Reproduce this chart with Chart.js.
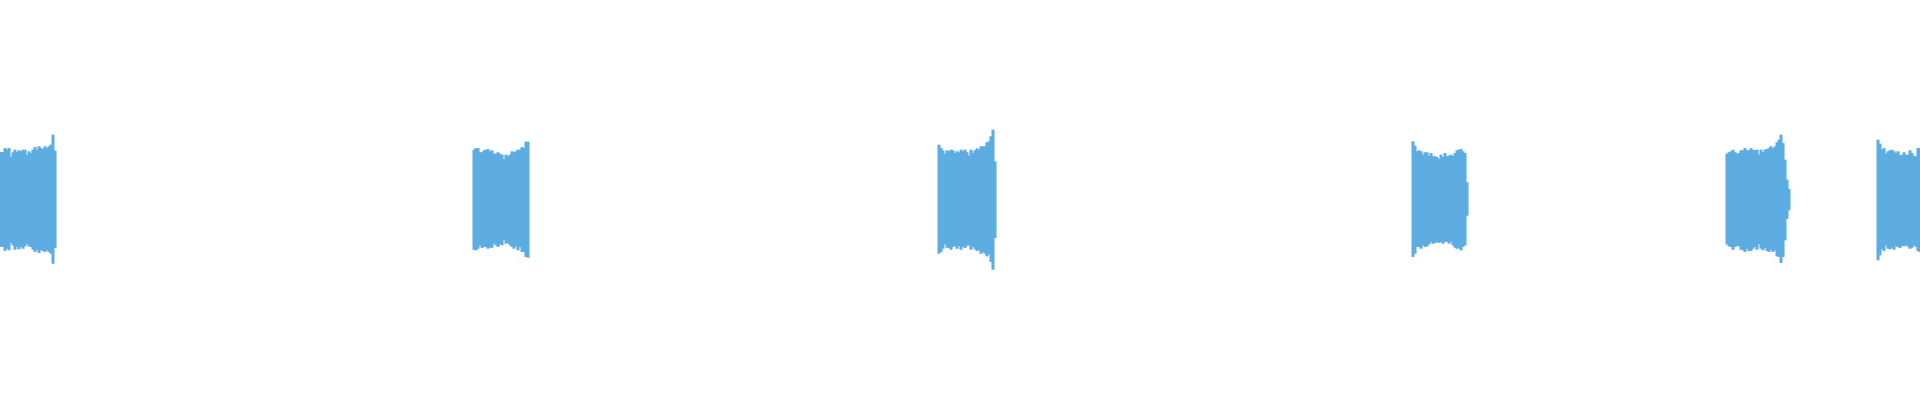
<!DOCTYPE html>
<html>
<head>
<meta charset="utf-8">
<script src="https://cdn.jsdelivr.net/npm/chart.js@4/dist/chart.umd.min.js"></script>
<style>
  html, body { margin: 0; padding: 0; background: #ffffff; }
  #wrap { width: 1920px; height: 400px; position: relative; }
</style>
</head>
<body>
<div id="wrap"><canvas id="wave"></canvas></div>
<script>
// Waveform peaks, one column every 20 ms; time axis is in seconds
const sampleStep = 0.02;
const burstStarts = [0.01, 4.74, 9.39, 14.13, 17.27, 18.78];

// upper / lower peak amplitude of each burst (normalised, 1 = full scale)
const burst1Top = [.233,.233,.253,.245,.253,.21,.232,.245,.232,.242,.237,.245,.245,.22,.237,.228,.245,.258,.245,.262,.253,.248,.262,.253,.262,.27,.32,.24];
const burst1Bottom = [.238,.238,.258,.247,.255,.218,.23,.252,.238,.25,.238,.247,.235,.222,.235,.238,.252,.263,.252,.268,.255,.258,.263,.255,.263,.272,.322,.243];

const burst2Top = [.245,.253,.253,.232,.232,.242,.245,.248,.237,.242,.225,.225,.232,.225,.22,.198,.22,.212,.22,.237,.232,.237,.245,.245,.258,.253,.285,.285];
const burst2Bottom = [.252,.255,.247,.23,.243,.238,.238,.247,.242,.242,.222,.23,.238,.225,.23,.202,.222,.218,.23,.238,.247,.235,.255,.238,.263,.263,.288,.292];

const burst3Top = [.27,.253,.242,.225,.242,.237,.245,.242,.228,.237,.232,.245,.237,.245,.232,.215,.245,.228,.242,.252,.245,.262,.262,.262,.282,.287,.312,.345,.187];
const burst3Bottom = [.272,.263,.247,.225,.242,.243,.252,.238,.233,.247,.233,.252,.238,.243,.232,.23,.252,.238,.25,.258,.255,.272,.263,.272,.285,.275,.313,.352,.193];

const burst4Top = [.287,.265,.237,.242,.237,.22,.232,.232,.215,.228,.212,.212,.208,.198,.22,.208,.228,.212,.215,.22,.212,.228,.242,.245,.248,.237,.228,.082];
const burst4Bottom = [.288,.272,.238,.238,.247,.23,.238,.235,.225,.213,.222,.218,.213,.218,.213,.222,.212,.213,.222,.213,.23,.242,.247,.245,.255,.238,.23,.082];

const burst5Top = [.225,.232,.237,.245,.233,.225,.228,.242,.242,.253,.242,.242,.252,.245,.242,.245,.22,.245,.233,.245,.248,.253,.262,.253,.262,.282,.295,.32,.278,.195,.095,.048];
const burst5Bottom = [.225,.235,.238,.252,.238,.233,.235,.252,.255,.263,.247,.258,.258,.247,.238,.252,.225,.247,.255,.242,.258,.263,.252,.263,.255,.285,.288,.318,.288,.205,.098,.055];

const burst6Top = [.295,.275,.245,.253,.225,.237,.242,.245,.237,.228,.237,.22,.218,.232,.22,.22,.242,.228,.215,.212,.253,.253];
const burst6Bottom = [.305,.28,.248,.258,.23,.247,.25,.242,.252,.235,.238,.243,.233,.235,.23,.238,.247,.242,.23,.238,.258,.263];

const burstTops = [burst1Top, burst2Top, burst3Top, burst4Top, burst5Top, burst6Top];
const burstBottoms = [burst1Bottom, burst2Bottom, burst3Bottom, burst4Bottom, burst5Bottom, burst6Bottom];

// turn each column into a floating bar [-bottom, top]
const peaks = [];
burstStarts.forEach((start, b) => {
    burstTops[b].forEach((top, i) => {
        peaks.push({ x: start + i * sampleStep, y: [-burstBottoms[b][i], top] });
    });
});

new Chart(document.getElementById('wave'), {
    type: 'bar',
    data: {
        datasets: [{
            label: 'Peaks',
            data: peaks,
            backgroundColor: '#5dade2',
            borderWidth: 0,
            barThickness: 2.4,
            grouped: false
        }]
    },
    options: {
        responsive: true,
        maintainAspectRatio: false,
        animation: false,
        layout: { padding: 0 },
        plugins: {
            legend: { display: false },
            tooltip: { enabled: false }
        },
        scales: {
            x: { type: 'linear', min: 0, max: 19.2, display: false, offset: false },
            y: { min: -1.005, max: 0.995, display: false }
        }
    }
});
</script>
</body>
</html>
